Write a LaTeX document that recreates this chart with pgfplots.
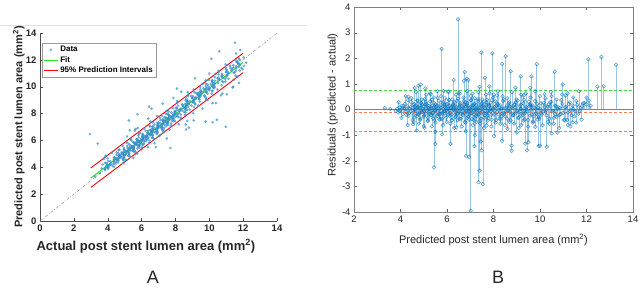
\documentclass[border=0pt]{standalone}
\usepackage{pgfplots}
\pgfplotsset{compat=1.18}
\usepackage{pgfplotstable}
\usepackage{fontspec}
\setmainfont{Liberation Sans}

\definecolor{mblue}{rgb}{0,0.447,0.741}
\definecolor{lgreen}{rgb}{0.15,0.9,0.15}
\definecolor{dgreen}{rgb}{0.25,0.85,0.25}
\definecolor{morange}{rgb}{1,0.5,0.35}

% p = predicted, r = residual (predicted - actual), a = actual
\pgfplotstableread{
p r a
3.80 -0.05 3.85
3.86 0.03 3.83
3.90 -0.12 4.02
3.95 0.08 3.87
4.00 -0.02 4.02
4.05 0.15 3.90
4.10 -0.18 4.28
4.15 0.05 4.10
4.20 0.22 3.98
4.25 -0.09 4.34
4.30 0.12 4.18
4.35 -0.25 4.60
4.40 0.02 4.38
4.45 0.30 4.15
4.50 -0.14 4.64
4.55 0.18 4.37
4.60 -0.30 4.90
4.64 0.08 4.56
4.68 -0.05 4.73
4.72 0.35 4.37
4.76 -0.20 4.96
4.80 0.12 4.68
4.84 -0.40 5.24
4.88 0.25 4.63
4.92 -0.10 5.02
4.96 0.04 4.92
5.00 -0.28 5.28
5.04 0.40 4.64
5.08 -0.16 5.24
5.12 0.20 4.92
5.16 -0.45 5.61
5.20 0.06 5.14
5.24 -0.08 5.32
5.28 0.32 4.96
5.32 -0.22 5.54
5.36 0.14 5.22
5.40 -0.35 5.75
5.44 0.26 5.18
5.48 -0.04 5.52
5.52 0.10 5.42
5.56 -0.26 5.82
5.60 0.45 5.15
5.64 -0.12 5.76
5.68 0.02 5.66
5.72 -0.38 6.10
5.76 0.18 5.58
5.80 -0.18 5.98
5.84 0.30 5.54
5.88 -0.06 5.94
5.92 0.08 5.84
5.96 -0.32 6.28
6.00 0.22 5.78
6.04 -0.10 6.14
6.08 0.38 5.70
6.12 -0.24 6.36
6.16 0.05 6.11
6.20 -0.42 6.62
6.24 0.15 6.09
6.28 -0.02 6.30
6.32 0.28 6.04
6.36 -0.30 6.66
6.40 0.10 6.30
6.44 -0.15 6.59
6.48 0.42 6.06
6.52 -0.06 6.58
6.56 0.20 6.36
6.60 -0.36 6.96
6.64 0.03 6.61
6.68 -0.20 6.88
6.72 0.33 6.39
6.76 -0.48 7.24
6.80 0.12 6.68
6.84 -0.08 6.92
6.88 0.25 6.63
6.92 -0.28 7.20
6.96 0.06 6.90
7.00 -0.14 7.14
7.04 0.36 6.68
7.08 -0.38 7.46
7.12 0.16 6.96
7.16 -0.04 7.20
7.20 0.24 6.96
7.24 -0.26 7.50
7.28 0.00 7.28
7.32 0.40 6.92
7.36 -0.18 7.54
7.40 0.10 7.30
7.44 -0.44 7.88
7.48 0.22 7.26
7.52 -0.08 7.60
7.56 0.30 7.26
7.60 -0.32 7.92
7.64 0.05 7.59
7.68 -0.16 7.84
7.72 0.38 7.34
7.76 -0.24 8.00
7.80 0.14 7.66
7.84 -0.02 7.86
7.88 0.26 7.62
7.92 -0.40 8.32
7.96 0.08 7.88
8.02 -0.20 8.22
8.08 0.32 7.76
8.14 -0.10 8.24
8.20 0.18 8.02
8.26 -0.34 8.60
8.32 0.04 8.28
8.38 -0.16 8.54
8.44 0.40 8.04
8.50 -0.26 8.76
8.56 0.12 8.44
8.62 -0.06 8.68
8.68 0.28 8.40
8.74 -0.42 9.16
8.80 0.08 8.72
8.86 -0.22 9.08
8.92 0.20 8.72
8.98 -0.12 9.10
9.04 0.35 8.69
9.10 -0.30 9.40
9.16 0.02 9.14
9.22 -0.18 9.40
9.28 0.24 9.04
9.34 -0.38 9.72
9.40 0.10 9.30
9.46 -0.08 9.54
9.52 0.30 9.22
9.58 -0.24 9.82
9.64 0.14 9.50
9.70 -0.46 10.16
9.76 0.06 9.70
9.82 -0.14 9.96
9.88 0.22 9.66
9.94 -0.30 10.24
10.00 0.04 9.96
10.08 -0.20 10.28
10.16 0.26 9.90
10.24 -0.10 10.34
10.32 0.12 10.20
10.40 -0.36 10.76
10.48 0.30 10.18
10.56 -0.04 10.60
10.64 0.16 10.48
10.72 -0.28 11.00
10.80 0.08 10.72
10.88 -0.18 11.06
10.96 0.22 10.74
11.04 -0.40 11.44
11.12 0.10 11.02
11.20 -0.12 11.32
11.28 0.28 11.00
11.36 -0.22 11.58
11.44 0.02 11.42
11.52 -0.08 11.60
11.60 0.18 11.42
11.70 -0.05 11.75
11.80 0.12 11.68
11.90 0.25 11.65
12.00 0.20 11.80
12.10 0.35 11.75
12.18 0.15 12.03
3.92 0.28 3.64
3.98 -0.06 4.04
4.04 -0.33 4.37
4.12 0.14 3.98
4.18 0.02 4.16
4.24 -0.21 4.45
4.32 0.37 3.95
4.38 -0.13 4.51
4.44 0.09 4.35
4.52 -0.41 4.93
4.58 0.21 4.37
4.62 -0.01 4.63
4.66 0.16 4.50
4.70 -0.27 4.97
4.74 0.33 4.41
4.78 -0.17 4.95
4.82 0.06 4.76
4.86 -0.36 5.22
4.90 0.24 4.66
4.94 -0.09 5.03
4.98 0.11 4.87
5.02 -0.23 5.25
5.06 0.19 4.87
5.10 0.28 4.82
5.14 -0.06 5.20
5.18 -0.33 5.51
5.22 0.14 5.08
5.26 0.02 5.24
5.30 -0.21 5.51
5.34 0.37 4.97
5.38 -0.13 5.51
5.42 0.09 5.33
5.46 -0.41 5.87
5.50 0.21 5.29
5.54 -0.01 5.55
5.58 0.16 5.42
5.62 -0.27 5.89
5.66 0.33 5.33
5.70 -0.17 5.87
5.74 0.06 5.68
5.78 -0.36 6.14
5.82 0.24 5.58
5.86 -0.09 5.95
5.90 0.11 5.79
5.94 -0.23 6.17
5.98 0.19 5.79
6.02 0.02 6.00
6.06 -0.21 6.27
6.10 0.37 5.73
6.14 -0.13 6.27
6.18 0.09 6.09
6.22 -0.41 6.63
6.26 0.21 6.05
6.30 -0.01 6.31
6.34 0.16 6.18
6.38 -0.27 6.65
6.42 0.33 6.09
6.46 -0.17 6.63
6.50 0.06 6.44
6.54 -0.36 6.90
6.58 0.24 6.34
6.62 -0.09 6.71
6.66 0.11 6.55
6.70 -0.23 6.93
6.74 0.19 6.55
6.78 0.28 6.50
6.82 -0.06 6.88
6.86 -0.33 7.19
6.90 0.14 6.76
6.94 0.02 6.92
6.98 -0.21 7.19
7.02 0.37 6.65
7.06 -0.13 7.19
7.10 0.09 7.01
7.14 -0.41 7.55
7.18 0.21 6.97
7.22 -0.01 7.23
7.26 0.16 7.10
7.30 -0.27 7.57
7.34 0.33 7.01
7.38 -0.17 7.55
7.42 0.06 7.36
7.46 -0.36 7.82
7.50 0.24 7.26
7.54 -0.09 7.63
7.58 0.11 7.47
7.62 -0.23 7.85
7.66 0.19 7.47
7.70 0.28 7.42
7.74 -0.06 7.80
7.78 -0.33 8.11
7.82 0.14 7.68
7.86 0.02 7.84
7.90 -0.21 8.11
7.94 0.37 7.57
7.98 -0.13 8.11
8.05 0.09 7.96
8.11 -0.41 8.52
8.17 0.21 7.96
8.23 -0.01 8.24
8.29 0.16 8.13
8.35 -0.27 8.62
8.41 0.33 8.08
8.47 -0.17 8.64
8.53 0.06 8.47
8.59 -0.36 8.95
8.65 0.24 8.41
8.71 -0.09 8.80
8.77 0.11 8.66
8.83 -0.23 9.06
8.89 0.19 8.70
8.95 0.28 8.67
9.01 -0.06 9.07
9.07 -0.33 9.40
9.13 0.14 8.99
9.19 0.02 9.17
9.25 -0.21 9.46
9.31 0.37 8.94
9.37 -0.13 9.50
9.43 0.09 9.34
9.49 -0.41 9.90
9.55 0.21 9.34
9.61 -0.01 9.62
9.67 0.16 9.51
9.73 -0.27 10.00
9.79 0.33 9.46
9.85 -0.17 10.02
9.91 0.06 9.85
9.97 -0.36 10.33
10.04 0.24 9.80
10.12 -0.09 10.21
10.20 0.11 10.09
10.28 -0.23 10.51
10.36 0.19 10.17
10.44 0.28 10.16
10.52 -0.06 10.58
10.60 -0.33 10.93
10.68 0.14 10.54
10.76 0.02 10.74
10.84 -0.21 11.05
10.92 0.37 10.55
11.00 -0.13 11.13
11.08 0.09 10.99
11.16 -0.41 11.57
11.24 0.21 11.03
11.32 -0.01 11.33
11.40 0.16 11.24
11.48 -0.27 11.75
11.56 0.33 11.23
11.65 -0.17 11.82
11.75 0.06 11.69
11.85 0.24 11.61
4.22 0.52 3.70
4.31 -0.61 4.92
4.47 0.44 4.03
4.56 -0.48 5.04
4.67 0.68 3.99
4.79 -0.55 5.34
4.91 0.39 4.52
5.03 -0.72 5.75
5.11 0.58 4.53
5.19 -0.43 5.62
5.27 0.63 4.64
5.35 -0.66 6.01
5.43 0.47 4.96
5.51 -0.51 6.02
5.59 0.71 4.88
5.67 -0.39 6.06
5.75 0.52 5.23
5.83 -0.61 6.44
5.91 0.44 5.47
5.99 -0.48 6.47
6.07 0.68 5.39
6.15 -0.55 6.70
6.23 0.39 5.84
6.31 -0.72 7.03
6.39 0.58 5.81
6.47 -0.43 6.90
6.55 0.63 5.92
6.63 -0.66 7.29
6.71 0.47 6.24
6.79 -0.51 7.30
6.87 0.71 6.16
6.95 -0.39 7.34
7.03 0.52 6.51
7.11 -0.61 7.72
7.19 0.44 6.75
7.27 -0.48 7.75
7.35 0.68 6.67
7.43 -0.55 7.98
7.51 0.39 7.12
7.59 -0.72 8.31
7.67 0.58 7.09
7.75 -0.43 8.18
7.83 0.63 7.20
7.91 -0.66 8.57
7.99 0.47 7.52
8.09 -0.51 8.60
8.19 0.71 7.48
8.29 -0.39 8.68
8.39 0.52 7.87
8.49 -0.61 9.10
8.59 0.44 8.15
8.69 -0.48 9.17
8.79 0.68 8.11
8.89 -0.55 9.44
8.99 0.39 8.60
9.09 -0.72 9.81
9.19 0.58 8.61
9.29 -0.43 9.72
9.39 0.63 8.76
9.49 -0.66 10.15
9.59 0.47 9.12
9.69 -0.51 10.20
9.79 0.71 9.08
9.89 -0.39 10.28
9.99 0.52 9.47
10.11 -0.61 10.72
10.23 0.44 9.79
10.35 -0.48 10.83
10.47 0.68 9.79
10.59 -0.55 11.14
10.71 0.39 10.32
10.83 -0.72 11.55
10.95 0.58 10.37
11.07 -0.43 11.50
11.19 0.63 10.56
11.31 -0.66 11.97
11.43 0.47 10.96
11.55 -0.51 12.06
11.67 0.71 10.96
11.79 -0.39 12.18
4.53 -0.03 4.56
4.61 0.12 4.49
4.69 -0.17 4.86
4.77 0.07 4.70
4.85 -0.11 4.96
4.93 0.19 4.74
5.01 -0.07 5.08
5.09 0.01 5.08
5.17 0.15 5.02
5.25 -0.19 5.44
5.33 0.04 5.29
5.41 -0.13 5.54
5.49 -0.03 5.52
5.57 0.12 5.45
5.65 -0.17 5.82
5.73 0.07 5.66
5.81 -0.11 5.92
5.89 0.19 5.70
5.97 -0.07 6.04
6.05 0.01 6.04
6.13 0.15 5.98
6.21 -0.19 6.40
6.29 0.04 6.25
6.37 -0.13 6.50
6.45 -0.03 6.48
6.53 0.12 6.41
6.61 -0.17 6.78
6.69 0.07 6.62
6.77 -0.11 6.88
6.85 0.19 6.66
6.93 -0.07 7.00
7.01 0.01 7.00
7.09 0.15 6.94
7.17 -0.19 7.36
7.25 0.04 7.21
7.33 -0.13 7.46
7.41 -0.03 7.44
7.49 0.12 7.37
7.57 -0.17 7.74
7.65 0.07 7.58
7.73 -0.11 7.84
7.81 0.19 7.62
7.89 -0.07 7.96
7.97 0.01 7.96
8.13 0.15 7.98
8.21 -0.19 8.40
8.37 0.04 8.33
8.45 -0.13 8.58
8.61 -0.03 8.64
8.69 0.12 8.57
8.85 -0.17 9.02
8.93 0.07 8.86
9.09 -0.11 9.20
9.17 0.19 8.98
9.33 -0.07 9.40
9.41 0.01 9.40
9.57 0.15 9.42
9.65 -0.19 9.84
9.81 0.04 9.77
10.05 -0.13 10.18
10.25 -0.03 10.28
10.45 0.12 10.33
10.65 -0.17 10.82
10.85 0.07 10.78
3.32 0.06 3.26
3.56 0.02 3.54
4.34 0.50 3.84
4.61 0.84 3.77
4.77 0.93 3.84
4.87 0.97 3.90
5.07 0.82 4.25
5.30 0.60 4.70
5.85 0.72 5.13
6.05 0.70 5.35
6.29 1.15 5.14
6.47 3.52 2.95
5.77 2.36 3.41
6.50 0.65 5.85
6.76 1.46 5.30
6.73 1.12 5.61
6.85 1.20 5.65
6.92 1.15 5.77
7.10 0.62 6.48
7.40 0.88 6.52
7.48 2.23 5.25
7.63 1.24 6.39
7.82 0.90 6.92
7.95 2.19 5.76
8.00 0.58 7.42
8.15 0.55 7.60
8.37 1.78 6.59
8.52 2.08 6.44
8.74 1.49 7.25
8.94 0.85 8.09
9.17 1.29 7.88
9.30 0.55 8.75
9.58 0.85 8.73
9.63 1.29 8.34
9.86 1.77 8.09
10.20 0.60 9.60
10.50 0.52 9.98
10.63 1.47 9.16
10.98 0.98 10.00
11.10 0.55 10.55
12.00 0.47 11.53
12.08 1.96 10.12
12.47 0.89 11.58
12.64 2.05 10.59
12.74 0.91 11.83
13.27 1.75 11.52
4.54 -0.58 5.12
4.70 -0.82 5.52
5.00 -0.65 5.65
5.44 -2.26 7.70
5.50 -1.34 6.84
5.50 -0.87 6.37
5.79 -0.97 6.76
6.15 -1.34 7.49
6.40 -0.70 7.10
6.80 -0.85 7.65
6.82 -1.81 8.63
6.95 -1.85 8.80
7.02 -3.95 10.97
7.18 -1.43 8.61
7.20 -1.00 8.20
7.36 -2.84 10.20
7.40 -2.39 9.79
7.45 -1.25 8.70
7.49 -1.59 9.08
7.54 -2.91 10.45
7.70 -0.62 8.32
8.02 -1.03 9.05
8.30 -0.55 8.85
8.37 -1.22 9.59
8.60 -0.75 9.35
8.78 -1.41 10.19
8.78 -1.61 10.39
9.00 -0.90 9.90
9.20 -0.60 9.80
9.36 -1.33 10.69
9.44 -1.59 11.03
9.50 -1.28 10.78
9.80 -0.68 10.48
9.94 -1.43 11.37
10.00 -1.41 11.41
10.29 -1.46 11.75
10.40 -0.55 10.95
10.50 -0.93 11.43
10.75 -0.90 11.65
11.20 -0.60 11.80
11.40 -0.50 11.90
}\resdata

\begin{document}
\begin{tikzpicture}[x=1pt,y=1pt]
\path[use as bounding box] (0,0) rectangle (640,289);
\fill[white] (0,0) rectangle (640,289);
\draw[black!12, line width=0.8pt] (0,264) -- (307,264);

% ---------------- Panel A ----------------
\begin{axis}[
  at={(40pt,68pt)}, anchor=south west, scale only axis,
  width=237pt, height=188pt,
  xmin=0, xmax=14, ymin=0, ymax=14,
  xtick={0,2,...,14}, ytick={0,2,...,14},
  axis lines*=left, axis line style={-, black!70, line width=0.6pt},
  tick style={black!70}, tick align=inside, major tick length=3pt,
  /pgf/number format/assume math mode=true,
  tick label style={font=\bfseries\fontsize{9.5}{10}\selectfont, black!85},
  xlabel={Actual post stent lumen area (mm\textsuperscript{2})},
  ylabel={Predicted post stent lumen area (mm\textsuperscript{2})},
  xlabel style={at={(axis description cs:0.447,-0.133)}, anchor=center,
    font=\bfseries\fontsize{13}{14}\selectfont, black!85},
  ylabel style={at={(axis description cs:-0.089,0.5)}, anchor=center,
    font=\bfseries\fontsize{11}{12}\selectfont, black!85},
  legend style={at={(0.008,0.947)}, anchor=north west, draw=black!40,
    font=\bfseries\fontsize{8}{9}\selectfont, inner sep=1.2pt,
    row sep=-1pt, legend cell align=left},
  legend image code/.code={\draw[#1] (0pt,0pt) -- (14pt,0pt);},
]
\addplot[black!45, dash pattern=on 3pt off 1.5pt on 0.8pt off 1.5pt, line width=0.4pt, forget plot] coordinates {(0,0) (14,14)};
\addplot[only marks, mark=*, mark size=1.15pt, color=mblue!80, opacity=0.6,
  legend image code/.code={\fill[mblue!70] (7pt,0pt) circle (1.2pt);}]
  table[x=a, y=p]{\resdata};
\addplot[lgreen, line width=1pt] coordinates {(3,3.2) (12,11.8)};
\addplot[red, line width=0.9pt] coordinates {(3,3.95) (12,12.5)};
\addplot[red, line width=0.9pt, forget plot] coordinates {(3,2.5) (12,11.05)};
\legend{Data, Fit, 95\% Prediction Intervals}
\end{axis}

% ---------------- Panel B ----------------
\begin{axis}[
  at={(354pt,77pt)}, anchor=south west, scale only axis,
  width=279pt, height=205pt,
  xmin=2, xmax=14, ymin=-4, ymax=4,
  xtick={2,4,...,14}, ytick={-4,-3,...,4},
  axis line style={black!50, line width=0.6pt},
  tick style={black!60}, tick align=inside, major tick length=3pt,
  /pgf/number format/assume math mode=true,
  tick label style={font=\fontsize{9.5}{10}\selectfont, black!85},
  xlabel={Predicted post stent lumen area (mm\textsuperscript{2})},
  ylabel={Residuals (predicted - actual)},
  xlabel style={at={(axis description cs:0.5,-0.137)}, anchor=center,
    font=\fontsize{11}{12}\selectfont, black!85},
  ylabel style={at={(axis description cs:-0.076,0.522)}, anchor=center,
    font=\fontsize{11}{12}\selectfont, black!85},
]
\addplot[ycomb, mblue, draw opacity=0.4, line width=0.6pt] table[x=p, y=r]{\resdata};
\addplot[only marks, mark=o, mark size=1.8pt, mblue, opacity=0.7, mark options={line width=0.55pt}] table[x=p, y=r]{\resdata};
\addplot[black!50, line width=0.6pt] coordinates {(2,0) (14,0)};
\addplot[morange, dash pattern=on 3pt off 2pt, line width=0.7pt] coordinates {(2,-0.12) (14,-0.12)};
\addplot[dgreen, dash pattern=on 3pt off 2pt, line width=0.7pt] coordinates {(2,0.76) (14,0.76)};
\addplot[dgreen, dash pattern=on 3pt off 2pt, line width=0.7pt] coordinates {(2,-0.85) (14,-0.85)};
\end{axis}

\node[font=\fontsize{18}{20}\selectfont, black!85, inner sep=0pt] at (153,12) {A};
\node[font=\fontsize{18}{20}\selectfont, black!85, inner sep=0pt] at (498,12) {B};
\end{tikzpicture}
\end{document}
